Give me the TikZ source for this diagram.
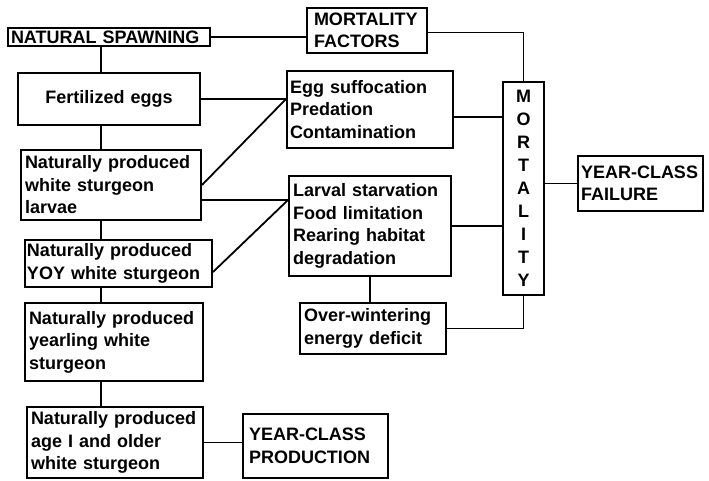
\documentclass[tikz,border=0pt]{standalone}
\usepackage{fontspec}
\setmainfont{Liberation Sans}
\begin{document}
\begin{tikzpicture}[x=1pt,y=-1pt,
  box/.style={draw, line width=2pt, inner sep=4pt, align=left, font=\fontsize{18}{22.5}\selectfont\bfseries},
  link/.style={line width=1.8pt}]
\useasboundingbox (0,0) rectangle (709,480);
\node[box, inner xsep=3pt, inner ysep=1pt, text width=196pt, minimum height=18pt] (ns) at (109,37) {NATURAL SPAWNING};
\node[box, inner xsep=7pt, text width=106pt, minimum height=45pt] (mf) at (367,30.5) {MORTALITY\\FACTORS};
\node[box, align=center, text width=174pt, minimum height=52pt] (fe) at (109,99) {Fertilized eggs};
\node[box, inner xsep=3pt, text width=160pt, minimum height=77pt] (es) at (370,109.5) {Egg suffocation\\Predation\\Contamination};
\node[box, align=center, inner sep=0pt, text width=41pt, minimum height=213pt, font=\fontsize{18}{23}\selectfont\bfseries] (mo) at (523.5,188.5) {M\\O\\R\\T\\A\\L\\I\\T\\Y};
\node[box, inner xsep=3pt, text width=119pt, minimum height=55pt] (ycf) at (640.5,183.5) {YEAR-CLASS\\FAILURE};
\node[box, text width=172pt, minimum height=70pt] (lv) at (111,185) {Naturally produced\\white sturgeon\\larvae};
\node[box, text width=154pt, minimum height=100pt] (ls) at (370,226) {Larval starvation\\Food limitation\\Rearing habitat\\degradation};
\node[box, text width=138pt, minimum height=51pt] (ow) at (373,328.5) {Over-wintering\\energy deficit};
\node[box, inner xsep=2pt, text width=183pt, minimum height=47pt] (yoy) at (118.5,263.5) {Naturally produced\\YOY white sturgeon};
\node[box, text width=170pt, minimum height=78pt] (yr) at (114,342) {Naturally produced\\yearling white\\sturgeon};
\node[box, text width=168pt, minimum height=71pt] (ag) at (115,442.5) {Naturally produced\\age I and older\\white sturgeon};
\node[box, inner xsep=6pt, text width=133pt, minimum height=64pt] (ycp) at (315.5,446) {YEAR-CLASS\\PRODUCTION};
\coordinate (sp) at (101,0);
\draw[link] (ns.south -| sp) -- (fe.north -| sp);
\draw[link] (fe.south -| sp) -- (lv.north -| sp);
\draw[link] (lv.south -| sp) -- (yoy.north -| sp);
\draw[link] (yoy.south -| sp) -- (yr.north -| sp);
\draw[link] (yr.south -| sp) -- (ag.north -| sp);
\draw[link] (ns.east) -- (ns.east -| mf.west);
\draw[link] ([yshift=-2pt]mf.east) -| (mo.north);
\coordinate (j1) at (es.west |- fe.east);
\draw[link] (fe.east) -- (j1);
\draw[link] (lv.east) -- (j1);
\coordinate (j2) at ([yshift=26pt]ls.west);
\draw[link] (lv.east |- j2) -- (j2);
\draw[link] ([yshift=-8.5pt]yoy.east) -- (j2);
\draw[link] ([yshift=-7.5pt]es.east) -- ([yshift=-7.5pt]es.east -| mo.west);
\draw[link] (ls.east) -- (ls.east -| mo.west);
\draw[link] (ycf.west -| mo.east) -- (ycf.west);
\draw[link] (mo.south) |- (ow.east);
\draw[link] (ls.south) -- (ls.south |- ow.north);
\draw[link] (ag.east) -- (ag.east -| ycp.west);
\end{tikzpicture}
\end{document}
